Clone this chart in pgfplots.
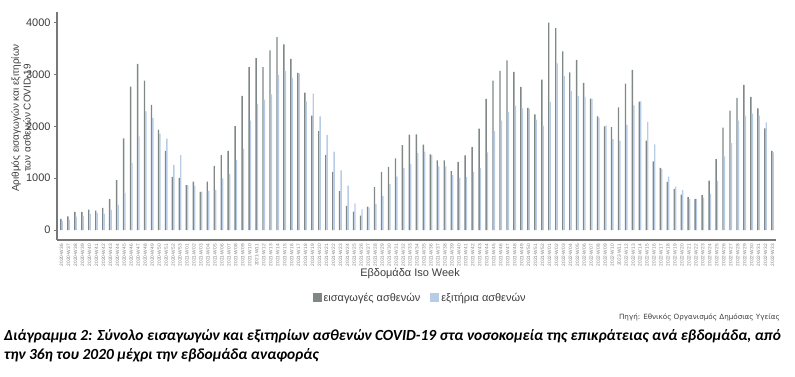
\documentclass[border=0pt]{standalone}
\usepackage{pgfplots}
\pgfplotsset{compat=1.18}
\usepackage{pgfplotstable}
\usepackage{fontspec}
\setmainfont{Liberation Sans}
\newfontfamily\capfont{Carlito}
\newfontfamily\srcfont{DejaVu Sans}
\definecolor{admcol}{RGB}{127,136,135}
\definecolor{discol}{RGB}{184,204,230}
\definecolor{axcol}{RGB}{120,120,120}
\definecolor{txtcol}{RGB}{60,60,60}

\pgfplotstableread{
x adm dis
1 213 174
2 265 200
3 348 258
4 348 271
5 394 310
6 374 329
7 426 316
8 594 387
9 961 484
10 1768 716
11 2768 1290
12 3206 1806
13 2884 2290
14 2413 2161
15 1935 1858
16 1529 1761
17 1026 1258
18 1006 1445
19 865 865
20 935 852
21 735 742
22 935 755
23 1239 774
24 1445 994
25 1529 1084
26 2006 1355
27 2587 1568
28 3142 2110
29 3316 2432
30 3142 2516
31 3465 2619
32 3723 2994
33 3581 3065
34 3303 2935
35 3032 3019
36 2652 2484
37 2206 2632
38 1910 2194
39 1445 1832
40 1123 1510
41 748 1148
42 465 858
43 355 516
44 277 400
45 452 432
46 826 497
47 1123 658
48 1219 890
49 1381 1032
50 1639 1200
51 1839 1277
52 1845 1484
53 1645 1510
54 1458 1445
55 1342 1226
56 1342 1226
57 1135 1065
58 1316 1006
59 1439 1019
60 1600 1116
61 1955 1200
62 2529 1497
63 2884 1910
64 3071 2110
65 3271 2277
66 3052 2400
67 2761 2348
68 2355 2330
69 2232 2129
70 2903 2013
71 4000 2471
72 3897 3213
73 3445 2968
74 3039 2677
75 3284 2581
76 2839 2568
77 2535 2529
78 2194 2160
79 2000 2013
80 1987 1755
81 2368 1723
82 2826 2026
83 3090 2406
84 2477 2484
85 1723 2084
86 1323 1652
87 1200 1174
88 929 1032
89 787 839
90 684 768
91 632 594
92 600 600
93 671 626
94 955 697
95 1368 948
96 1974 1419
97 2303 1677
98 2548 2110
99 2800 2206
100 2568 2245
101 2348 2206
102 1961 2077
103 1529 1497
}\weekdata

\begin{document}
\begin{tikzpicture}
\path[use as bounding box] (0bp,0bp) rectangle (795bp,-377bp);
\begin{axis}[
  at={(57bp,-240bp)}, anchor=south west,
  scale only axis, width=719bp, height=228bp,
  xmin=0.34, xmax=103.5, ymin=-193, ymax=4206,
  axis x line*=bottom, axis y line*=left,
  axis line style={draw=axcol, line width=1.1bp},
  ybar, bar width=0.2,
  ytick={0,1000,2000,3000,4000},
  /pgf/number format/1000 sep={},
  /pgf/number format/assume math mode=true,
  yticklabel style={font=\fontsize{11}{13}\selectfont, text=txtcol},
  ytick style={draw=axcol, line width=0.8bp},
  tick align=outside, major tick length=3bp,
  xtick={1,...,103},
  xtick style={draw=none},
  xticklabels={2020-W36,2020-W37,2020-W38,2020-W39,2020-W40,2020-W41,2020-W42,2020-W43,2020-W44,2020-W45,2020-W46,2020-W47,2020-W48,2020-W49,2020-W50,2020-W51,2020-W52,2020-W53,2021-W01,2021-W02,2021-W03,2021-W04,2021-W05,2021-W06,2021-W07,2021-W08,2021-W09,2021-W10,2021-W11,2021-W12,2021-W13,2021-W14,2021-W15,2021-W16,2021-W17,2021-W18,2021-W19,2021-W20,2021-W21,2021-W22,2021-W23,2021-W24,2021-W25,2021-W26,2021-W27,2021-W28,2021-W29,2021-W30,2021-W31,2021-W32,2021-W33,2021-W34,2021-W35,2021-W36,2021-W37,2021-W38,2021-W39,2021-W40,2021-W41,2021-W42,2021-W43,2021-W44,2021-W45,2021-W46,2021-W47,2021-W48,2021-W49,2021-W50,2021-W51,2021-W52,2022-W01,2022-W02,2022-W03,2022-W04,2022-W05,2022-W06,2022-W07,2022-W08,2022-W09,2022-W10,2022-W11,2022-W12,2022-W13,2022-W14,2022-W15,2022-W16,2022-W17,2022-W18,2022-W19,2022-W20,2022-W21,2022-W22,2022-W23,2022-W24,2022-W25,2022-W26,2022-W27,2022-W28,2022-W29,2022-W30,2022-W31,2022-W32,2022-W33},
  xticklabel style={rotate=90, anchor=east, font=\fontsize{4.8}{5}\selectfont, text=gray, inner sep=1bp},
  xlabel={Εβδομάδα Iso Week},
  xlabel style={at={(axis description cs:0.491,-0.147)}, anchor=center, font=\fontsize{11}{13}\selectfont, text=txtcol},
  ylabel={Αριθμός εισαγωγών και εξιτηρίων\\των ασθενών COVID-19},
  ylabel style={at={(axis description cs:-0.050,0.535)}, anchor=center, align=center, font=\fontsize{10}{12}\selectfont, text=txtcol},
  legend style={at={(axis description cs:0.505,-0.254)}, anchor=center, draw=none, fill=none,
    legend columns=2, font=\fontsize{11}{13}\selectfont, text=txtcol,
    /tikz/every even column/.append style={column sep=8bp}},
]
\addplot[fill=admcol, draw=none, bar shift=-0.1,
  legend image code/.code={\fill[admcol] (0bp,-4bp) rectangle (9bp,5bp);}]
  table[x=x, y=adm] {\weekdata};
\addlegendentry{εισαγωγές ασθενών}
\addplot[fill=discol, draw=none, bar shift=0.1,
  legend image code/.code={\fill[discol] (0bp,-4bp) rectangle (9bp,5bp);}]
  table[x=x, y=dis] {\weekdata};
\addlegendentry{εξιτήρια ασθενών}
\end{axis}
\node[anchor=east, font=\srcfont\fontsize{7.2}{8}\selectfont, text=txtcol, inner sep=0pt] at (780bp,-317bp) {Πηγή: Εθνικός Οργανισμός Δημόσιας Υγείας};
\node[anchor=north west, align=left, inner sep=0pt, font=\capfont\bfseries\itshape\fontsize{15.5}{19.5}\selectfont, text=black] at (4bp,-329bp) {Διάγραμμα 2: Σύνολο εισαγωγών και εξιτηρίων ασθενών COVID-19 στα νοσοκομεία της επικράτειας ανά εβδομάδα, από\\την 36η του 2020 μέχρι την εβδομάδα αναφοράς};
\end{tikzpicture}
\end{document}
